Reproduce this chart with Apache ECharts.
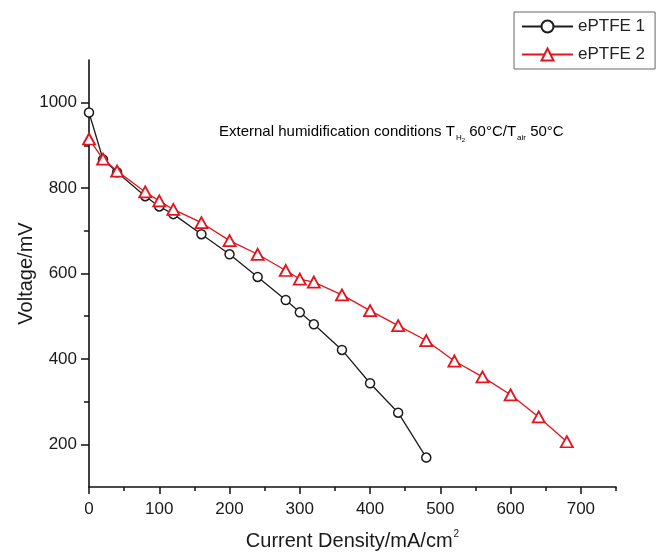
<!DOCTYPE html>
<html>
<head>
<meta charset="utf-8">
<script src="https://cdn.jsdelivr.net/npm/echarts@6/dist/echarts.min.js"></script>
<style>html,body{margin:0;padding:0;background:#fff}#c{width:670px;height:556px}</style>
</head>
<body>
<div id="c"></div>
<script>
const currentDensity1 = [0, 20, 40, 80, 100, 120, 160, 200, 240, 280, 300, 320, 360, 400, 440, 480];
const voltage1 = [977, 867, 837, 781, 757, 739, 692, 645, 592, 538, 509, 481, 421, 343, 274, 169];
const currentDensity2 = [0, 20, 40, 80, 100, 120, 160, 200, 240, 280, 300, 320, 360, 400, 440, 480, 520, 560, 600, 640, 680];
const voltage2 = [915, 868, 840, 791, 770, 750, 719, 677, 645, 607, 587, 580, 550, 513, 478, 443, 395, 358, 316, 264, 206];
const seriesNames = ['ePTFE 1', 'ePTFE 2'];
const xMajorTicks = [0, 100, 200, 300, 400, 500, 600, 700];
const xMinorTicks = [50, 150, 250, 350, 450, 550, 650, 750];
const yMajorTicks = [200, 400, 600, 800, 1000];
const yMinorTicks = [300, 500, 700, 900];

const FONT = 'Liberation Sans';
const black = '#1c1c1c';
const red = '#e3141e';

const chart = echarts.init(document.getElementById('c'), null, {renderer: 'canvas'});
const pairs = (xs, ys) => xs.map((x, i) => [x, ys[i]]);

const axisLine = {show: true, onZero: false, lineStyle: {color: '#111', width: 1.6}};

chart.setOption({
  animation: false,
  backgroundColor: '#fff',
  grid: {left: 89, right: 54, top: 60, bottom: 68, containLabel: false},
  legend: {
    orient: 'vertical',
    left: 514, top: 12,
    padding: [6, 10, 6, 7],
    itemWidth: 51, itemHeight: 15, itemGap: 11,
    borderColor: '#666', borderWidth: 1,
    textStyle: {fontFamily: FONT, fontSize: 17, color: '#222'},
    data: seriesNames
  },
  xAxis: [{
    type: 'value', min: 0, max: 750,
    axisLine: axisLine,
    axisTick: {show: true, inside: false, length: 7, customValues: xMajorTicks, lineStyle: {color: '#111', width: 1.5}},
    axisLabel: {show: true, customValues: xMajorTicks, margin: 14, fontFamily: FONT, fontSize: 17, color: '#1a1a1a', formatter: v => String(v)},
    splitLine: {show: false},
    name: '{a|Current Density/mA/cm}{s|2}',
    nameLocation: 'middle', nameGap: 42, nameMoveOverlap: false,
    nameTextStyle: {rich: {
      a: {fontFamily: FONT, fontSize: 20, color: '#1a1a1a'},
      s: {fontFamily: FONT, fontSize: 10, color: '#1a1a1a', padding: [0, 0, 14, 1]}
    }}
  }, {
    type: 'value', min: 0, max: 750, position: 'bottom', offset: 0,
    axisLine: {show: false},
    axisTick: {show: true, inside: false, length: 4, customValues: xMinorTicks, lineStyle: {color: '#111', width: 1.5}},
    axisLabel: {show: false},
    splitLine: {show: false}
  }],
  yAxis: [{
    type: 'value', min: 100, max: 1100,
    axisLine: axisLine,
    axisTick: {show: true, length: 8, customValues: yMajorTicks, lineStyle: {color: '#111', width: 1.5}},
    axisLabel: {show: true, customValues: yMajorTicks, margin: 12, fontFamily: FONT, fontSize: 17, color: '#1a1a1a', formatter: v => String(v)},
    splitLine: {show: false},
    name: 'Voltage/mV', nameLocation: 'middle', nameGap: 53, nameMoveOverlap: false,
    nameTextStyle: {fontFamily: FONT, fontSize: 20, color: '#1a1a1a'}
  }, {
    type: 'value', min: 100, max: 1100, position: 'left', offset: 0,
    axisLine: {show: false},
    axisTick: {show: true, length: 5, customValues: yMinorTicks, lineStyle: {color: '#111', width: 1.5}},
    axisLabel: {show: false},
    splitLine: {show: false}
  }],
  series: [{
    name: seriesNames[0], type: 'line',
    xAxisIndex: 0, yAxisIndex: 0,
    data: pairs(currentDensity1, voltage1),
    symbol: 'circle', symbolSize: 9,
    color: black,
    lineStyle: {color: black, width: 1.3},
    itemStyle: {color: '#fff', borderColor: black, borderWidth: 1.5},
    z: 2
  }, {
    name: seriesNames[1], type: 'line',
    xAxisIndex: 0, yAxisIndex: 0,
    data: pairs(currentDensity2, voltage2),
    symbol: 'triangle', symbolSize: [12, 11],
    color: red,
    lineStyle: {color: red, width: 1.3},
    itemStyle: {color: '#fff', borderColor: red, borderWidth: 1.8},
    z: 3
  }],
  graphic: [{
    type: 'text', left: 219, top: 124,
    style: {
      text: '{n|External humidification conditions T}{s|H}{ss|2}{n| 60°C/T}{s|air}{n| 50°C}',
      rich: {
        n: {fontFamily: FONT, fontSize: 15, color: '#1a1a1a'},
        s: {fontFamily: FONT, fontSize: 8, color: '#1a1a1a', padding: [12, 0, 0, 1]},
        ss: {fontFamily: FONT, fontSize: 6, color: '#1a1a1a', padding: [18, 0, 0, 0]}
      }
    }
  }]
});
</script>
</body>
</html>
